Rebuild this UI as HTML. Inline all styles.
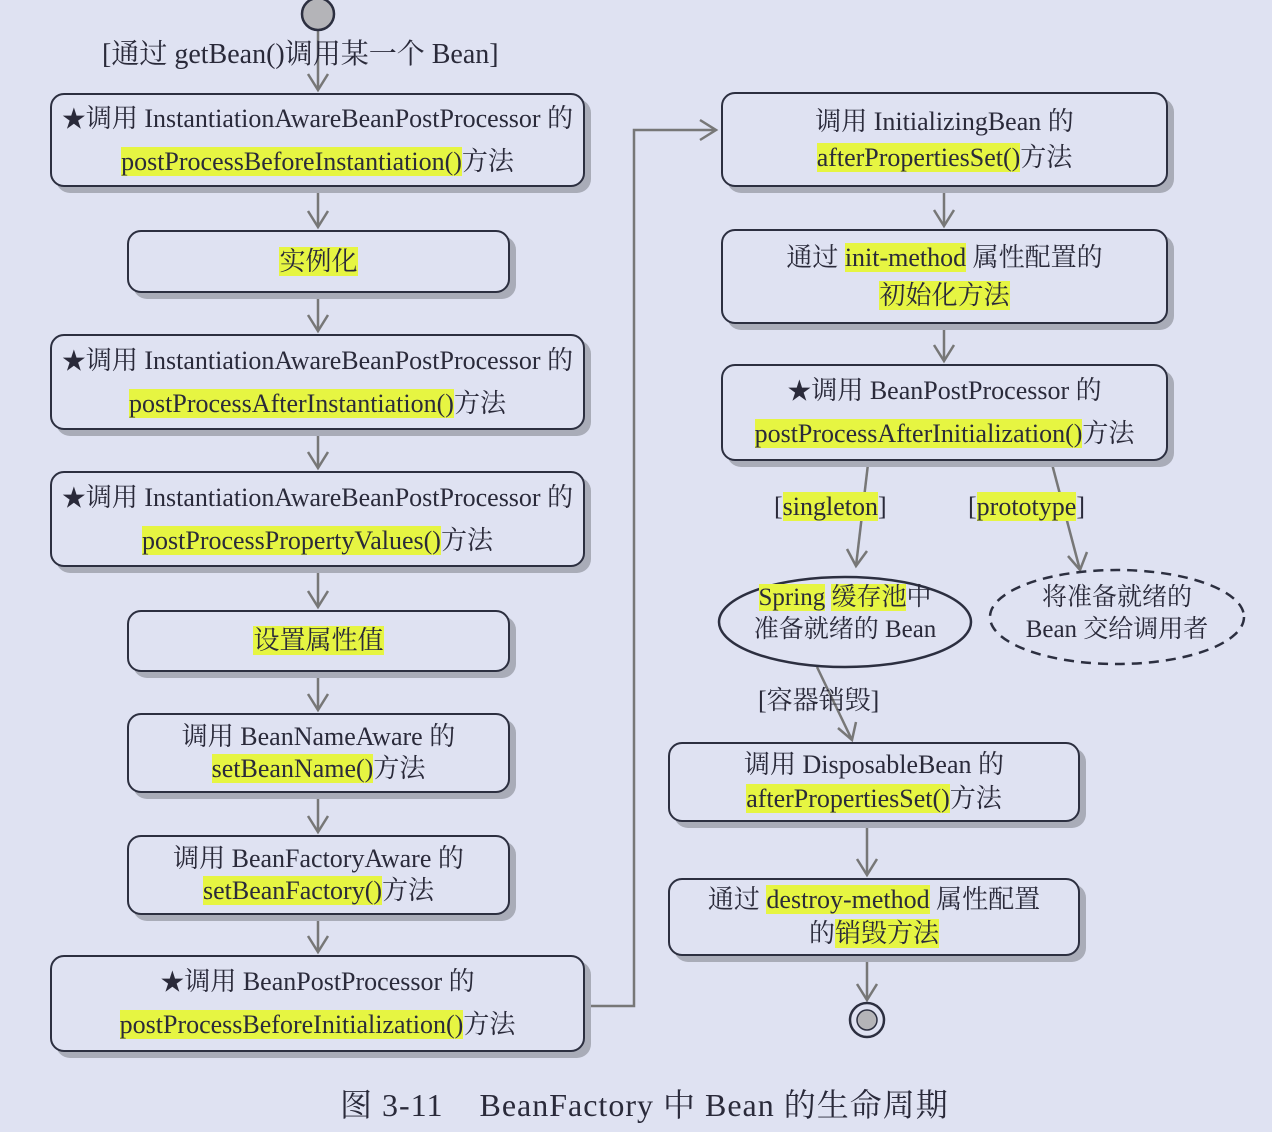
<!DOCTYPE html>
<html><head><meta charset="utf-8"><style>
body{margin:0;width:1272px;height:1132px;background:#dfe2f2;position:relative;overflow:hidden;font-family:"Liberation Serif","Noto Serif CJK SC",serif;color:#2a2a3a}
.b{position:absolute;box-sizing:border-box;border:2.5px solid #2c2f40;border-radius:14px;background:#dfe2f2;box-shadow:6px 6px 0 #a9acb8;display:flex;flex-direction:column;justify-content:center;align-items:center;font-size:26px;line-height:42px;white-space:nowrap}
.h{background:#e6f542}
.t{position:absolute;font-size:26px;white-space:nowrap}
svg{position:absolute;left:0;top:0}
</style></head><body>
<svg width="1272" height="1132">
<g stroke="#777" stroke-width="2.5" fill="none">
<line x1="318" y1="30" x2="318" y2="90"/><path d="M308,74 L318,90 L328,74"/>
<line x1="318" y1="190" x2="318" y2="227"/><path d="M308,211 L318,227 L328,211"/>
<line x1="318" y1="296" x2="318" y2="331"/><path d="M308,315 L318,331 L328,315"/>
<line x1="318" y1="433" x2="318" y2="468"/><path d="M308,452 L318,468 L328,452"/>
<line x1="318" y1="570" x2="318" y2="607"/><path d="M308,591 L318,607 L328,591"/>
<line x1="318" y1="675" x2="318" y2="710"/><path d="M308,694 L318,710 L328,694"/>
<line x1="318" y1="796" x2="318" y2="832"/><path d="M308,816 L318,832 L328,816"/>
<line x1="318" y1="918" x2="318" y2="952"/><path d="M308,936 L318,952 L328,936"/>
<polyline points="588,1006 634,1006 634,130 716,130"/><path d="M700,120 L716,130 L700,140"/>
<line x1="944" y1="190" x2="944" y2="226"/><path d="M934,210 L944,226 L954,210"/>
<line x1="944" y1="327" x2="944" y2="361"/><path d="M934,345 L944,361 L954,345"/>
<line x1="868" y1="464" x2="856" y2="566"/><path d="M847,549 L856,566 L867,551"/>
<line x1="1052" y1="464" x2="1080" y2="570"/><path d="M1068,556 L1080,570 L1087,552"/>
<line x1="817" y1="667" x2="852" y2="740"/><path d="M838,728 L852,740 L856,722"/>
<line x1="867" y1="826" x2="867" y2="875"/><path d="M857,859 L867,875 L877,859"/>
<line x1="867" y1="960" x2="867" y2="1000"/><path d="M857,984 L867,1000 L877,984"/>
</g>
<circle cx="318" cy="14" r="16" fill="#b4b4b8" stroke="#2c2f40" stroke-width="2.5"/>
<ellipse cx="845" cy="622" rx="126" ry="45" fill="none" stroke="#2c2f40" stroke-width="2.5"/>
<ellipse cx="1117" cy="617" rx="127" ry="47" fill="none" stroke="#2c2f40" stroke-width="2.5" stroke-dasharray="10,7"/>
<circle cx="867" cy="1020" r="17" fill="none" stroke="#2c2f40" stroke-width="2.5"/>
<circle cx="867" cy="1020" r="10" fill="#b4b4b8" stroke="#2c2f40" stroke-width="1.5"/>
</svg>
<div class="t" style="left:102px;top:32px;font-size:28px">[通过 getBean()调用某一个 Bean]</div>
<div class="b" style="left:50px;top:93px;width:535px;height:94px"><div><span style="font-size:24px">★</span>调用 InstantiationAwareBeanPostProcessor 的</div><div><span class="h">postProcessBeforeInstantiation()</span>方法</div></div>
<div class="b" style="left:127px;top:230px;width:383px;height:63px"><div><span class="h">实例化</span></div></div>
<div class="b" style="left:50px;top:334px;width:535px;height:96px"><div><span style="font-size:24px">★</span>调用 InstantiationAwareBeanPostProcessor 的</div><div><span class="h">postProcessAfterInstantiation()</span>方法</div></div>
<div class="b" style="left:50px;top:471px;width:535px;height:96px"><div><span style="font-size:24px">★</span>调用 InstantiationAwareBeanPostProcessor 的</div><div><span class="h">postProcessPropertyValues()</span>方法</div></div>
<div class="b" style="left:127px;top:610px;width:383px;height:62px"><div><span class="h">设置属性值</span></div></div>
<div class="b" style="left:127px;top:713px;width:383px;height:80px;line-height:32px"><div>调用 BeanNameAware 的</div><div><span class="h">setBeanName()</span>方法</div></div>
<div class="b" style="left:127px;top:835px;width:383px;height:80px;line-height:32px"><div>调用 BeanFactoryAware 的</div><div><span class="h">setBeanFactory()</span>方法</div></div>
<div class="b" style="left:50px;top:955px;width:535px;height:97px"><div><span style="font-size:24px">★</span>调用 BeanPostProcessor 的</div><div><span class="h">postProcessBeforeInitialization()</span>方法</div></div>
<div class="b" style="left:721px;top:92px;width:447px;height:95px;line-height:36px"><div>调用 InitializingBean 的</div><div><span class="h">afterPropertiesSet()</span>方法</div></div>
<div class="b" style="left:721px;top:229px;width:447px;height:95px;line-height:38px"><div>通过 <span class="h">init-method</span> 属性配置的</div><div><span class="h">初始化方法</span></div></div>
<div class="b" style="left:721px;top:364px;width:447px;height:97px"><div><span style="font-size:24px">★</span>调用 BeanPostProcessor 的</div><div><span class="h">postProcessAfterInitialization()</span>方法</div></div>
<div class="t" style="left:774px;top:492px">[<span class="h">singleton</span>]</div>
<div class="t" style="left:968px;top:492px">[<span class="h">prototype</span>]</div>
<div class="t" style="left:745px;top:582px;width:200px;text-align:center;font-size:25px;line-height:32px"><span class="h">Spring</span> <span class="h">缓存池</span>中<br>准备就绪的 Bean</div>
<div class="t" style="left:1017px;top:582px;width:200px;text-align:center;font-size:25px;line-height:32px">将准备就绪的<br>Bean 交给调用者</div>
<div class="t" style="left:758px;top:680px">[容器销毁]</div>
<div class="b" style="left:668px;top:742px;width:412px;height:80px;line-height:34px"><div>调用 DisposableBean 的</div><div><span class="h">afterPropertiesSet()</span>方法</div></div>
<div class="b" style="left:668px;top:878px;width:412px;height:78px;line-height:34px"><div>通过 <span class="h">destroy-method</span> 属性配置</div><div>的<span class="h">销毁方法</span></div></div>
<div class="t" style="left:340px;top:1080px;font-size:32px;letter-spacing:1px">图 3-11&nbsp;&nbsp;&nbsp; BeanFactory 中 Bean 的生命周期</div>
</body></html>
